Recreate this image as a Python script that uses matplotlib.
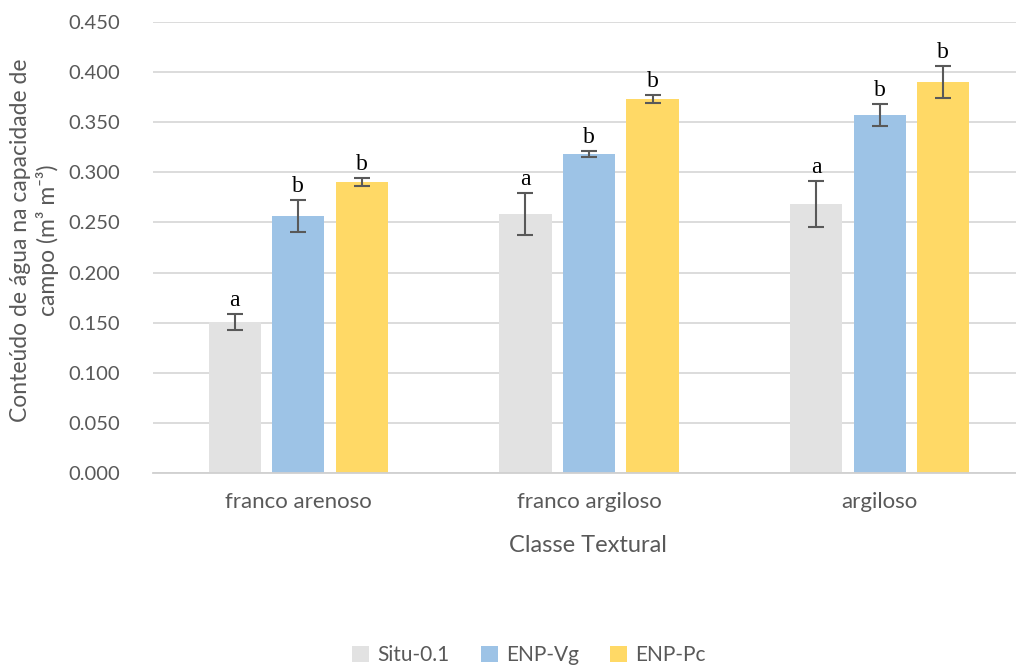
import numpy as np
import matplotlib
matplotlib.use("Agg")
import matplotlib.pyplot as plt
from matplotlib.patches import Patch

# Field capacity water content by textural class
categories = ["franco arenoso", "franco argiloso", "argiloso"]
series_names = ["Situ-0.1", "ENP-Vg", "ENP-Pc"]
situ = [0.151, 0.258, 0.268]
situ_err = [0.008, 0.021, 0.023]
vg = [0.256, 0.318, 0.357]
vg_err = [0.016, 0.003, 0.011]
pc = [0.290, 0.373, 0.390]
pc_err = [0.004, 0.004, 0.016]
letters_situ = ["a", "a", "a"]
letters_vg = ["b", "b", "b"]
letters_pc = ["b", "b", "b"]
yticks = [0.000, 0.050, 0.100, 0.150, 0.200, 0.250, 0.300, 0.350, 0.400, 0.450]

colors = ["#E2E2E2", "#9DC3E6", "#FFD966"]
text_gray = "#595959"
sans = ["Lato", "DejaVu Sans"]

fig = plt.figure(figsize=(10.16, 6.67), dpi=100)
ax = fig.add_axes([153 / 1016, 1 - 473 / 667, 872 / 1016, (473 - 22) / 667])

x = np.arange(len(categories))
width = 0.18
step = 0.219
values = [situ, vg, pc]
errors = [situ_err, vg_err, pc_err]
letters = [letters_situ, letters_vg, letters_pc]

for i, (vals, errs, lets, col) in enumerate(zip(values, errors, letters, colors)):
    pos = x + (i - 1) * step
    ax.bar(pos, vals, width, color=col, zorder=2)
    ax.errorbar(pos, vals, yerr=errs, fmt="none", ecolor="#595959",
                elinewidth=1.5, capsize=5.5, capthick=1.5, zorder=3)
    for p, v, e, t in zip(pos, vals, errs, lets):
        ax.text(p, v + e + 0.003, t, ha="center", va="bottom",
                family="Liberation Serif", fontsize=17, color="black", zorder=4)

ax.set_xlim(-0.5, len(categories) - 0.5)
ax.set_ylim(0, 0.45)
ax.set_yticks(yticks)
ax.set_yticklabels([f"{t:.3f}" for t in yticks])
ax.set_xticks(x)
ax.set_xticklabels(categories)
ax.yaxis.grid(True, color="#D9D9D9", linewidth=1.3, zorder=0)
ax.set_axisbelow(True)
for side in ["top", "right", "left"]:
    ax.spines[side].set_visible(False)
ax.spines["bottom"].set_color("#D0D0D0")
ax.spines["bottom"].set_linewidth(1.3)
ax.tick_params(axis="both", length=0, colors=text_gray)
ax.tick_params(axis="x", labelsize=16, pad=14)
ax.tick_params(axis="y", labelsize=14.5, pad=24)
for lab in ax.get_xticklabels() + ax.get_yticklabels():
    lab.set_family(sans)

fig.text(21 / 1016, 1 - 240 / 667, "Conteúdo de água na capacidade de",
         rotation=90, ha="center", va="center", color=text_gray,
         fontsize=16.5, family=sans)
fig.text(48 / 1016, 1 - 240 / 667, "campo (m³ m⁻³)",
         rotation=90, ha="center", va="center", color=text_gray,
         fontsize=16.5, family=sans)
fig.text(588 / 1016, 1 - 545 / 667, "Classe Textural", ha="center",
         va="center", color=text_gray, fontsize=17, family=sans)

handles = [Patch(facecolor=c, edgecolor="none") for c in colors]
leg = fig.legend(handles, series_names, loc="center", ncol=3,
                 bbox_to_anchor=(529 / 1016, 1 - 655 / 667), frameon=False,
                 prop={"family": sans, "size": 15}, handlelength=0.8,
                 handleheight=0.8, handletextpad=0.4, columnspacing=1.5)
for t in leg.get_texts():
    t.set_color(text_gray)

fig.savefig("out.png", dpi=100)
